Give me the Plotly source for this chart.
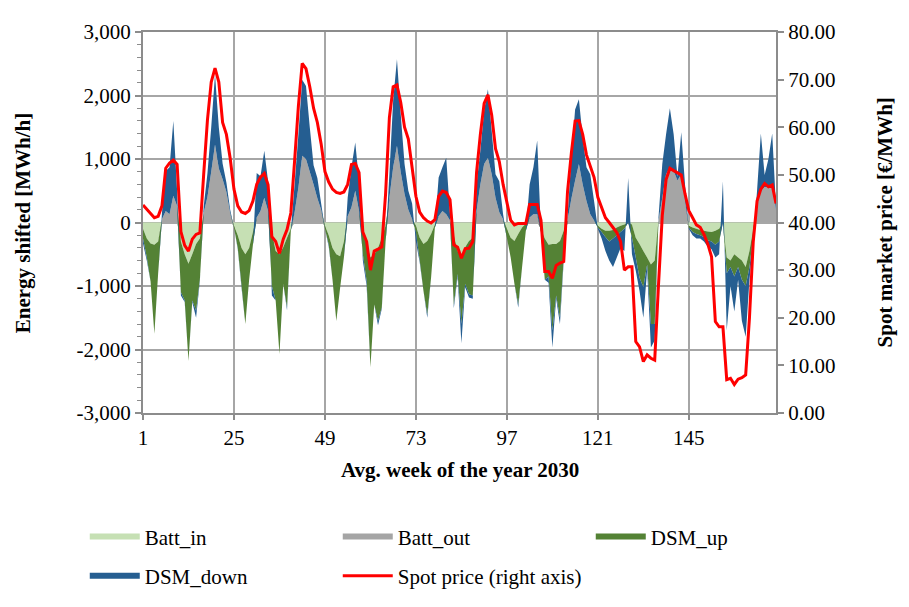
import plotly.graph_objects as go

hours = list(range(1, 169))

batt_in = (
    [-100, -250, -330, -350, -300, 0, 0, 0, 0, 0, -300, -500, -650, -500, -340, -250, 0, 0, 0, 0, 0, 0, 0, 0]
    + [-50, -200, -400, -500, -400, -150, 0, 0, 0, 0, -150, -450, -500, -390, -240, -100, 0, 0, 0, 0, 0, 0, 0, 0]
    + [-50, -200, -400, -500, -530, -300, 0, 0, 0, 0, -150, -340, -550, -500, -400, -240, -50, 0, 0, 0, 0, 0, 0, 0]
    + [-50, -240, -340, -290, -180, -30, 0, 0, 0, 0, -200, -450, -550, -390, -290, -240, 0, 0, 0, 0, 0, 0, 0, 0]
    + [-100, -240, -290, -180, -80, -20, 0, 0, 0, -100, -250, -350, -340, -340, -290, -130, 0, 0, 0, 0, 0, 0, 0, 0]
    + [-50, -100, -130, -130, -120, -80, -50, -30, 0, -30, -240, -340, -450, -550, -660, -600, 0, 0, 0, 0, 0, 0, 0, 0]
    + [-50, -80, -100, -120, -130, -140, -150, -130, -100, 0, -550, -600, -500, -550, -600, -700, -450, -100, 0, 0, 0, 0, 0, 0]
)

batt_out = (
    [0, 0, 0, 0, 0, 50, 180, 130, 420, 260, 0, 0, 0, 0, 0, 0, 150, 400, 800, 1230, 850, 680, 480, 150]
    + [0, 0, 0, 0, 0, 0, 80, 180, 390, 180, 0, 0, 0, 0, 0, 0, 160, 550, 1050, 1000, 800, 600, 380, 200]
    + [0, 0, 0, 0, 0, 0, 100, 240, 500, 180, 0, 0, 0, 0, 0, 0, 0, 390, 870, 1210, 790, 450, 200, 50]
    + [0, 0, 0, 0, 0, 0, 100, 180, 130, 30, 0, 0, 0, 0, 0, 0, 180, 600, 920, 1020, 760, 390, 160, 50]
    + [0, 0, 0, 0, 0, 0, 80, 130, 130, 0, 0, 0, 0, 0, 0, 0, 30, 370, 660, 920, 600, 340, 130, 30]
    + [0, 0, 0, 0, 0, 0, 0, 0, 0, 0, 0, 0, 0, 0, 0, 0, 30, 390, 760, 870, 810, 660, 760, 340]
    + [0, 0, 0, 0, 0, 0, 0, 0, 0, 0, 0, 0, 0, 0, 0, 0, 0, 0, 250, 500, 560, 560, 560, 200]
)

dsm_up = (
    [-150, -300, -600, -1400, -500, 0, 0, 0, 0, 0, -800, -730, -1530, -730, -1050, -650, 0, 0, 0, 0, 0, 0, 0, 0]
    + [-30, -200, -600, -1100, -500, -200, 0, 0, 0, 0, -850, -780, -1570, -580, -1100, -30, 0, 0, 0, 0, 0, 0, 0, 0]
    + [-50, -150, -500, -1050, -500, -250, 0, 0, 0, 0, -350, -580, -1730, -790, -1150, -1100, -250, 0, 0, 0, 0, 0, 0, 0]
    + [-100, -360, -740, -1160, -690, -50, 0, 0, 0, 0, -1100, -360, -1050, -580, -840, -910, 0, 0, 0, 0, 0, 0, 0, 0]
    + [-140, -310, -680, -1110, -630, -110, 0, 0, 0, -50, -650, -500, -1360, -810, -1210, -420, 0, 0, 0, 0, 0, 0, 0, 0]
    + [-30, -50, -100, -170, -130, -120, -100, -70, 0, -210, -310, -530, -570, -110, -940, -1000, 0, 0, 0, 0, 0, 0, 0, 0]
    + [-30, -70, -80, -80, -100, -140, -150, -220, -200, 0, -250, -100, -350, -150, -300, -300, -250, -100, 0, 0, 0, 0, 0, 0]
)

dsm_down = (
    [-80, -50, 0, 0, 0, 100, 630, 740, 1180, 240, -50, -20, 0, -20, -110, -20, 100, 370, 700, 1100, 650, 250, 150, 50]
    + [0, -20, -30, 0, 0, 0, 700, 550, 740, 470, -150, 0, 0, 0, -40, 0, 440, 840, 1200, 1150, 700, 300, 320, 100]
    + [0, -30, 0, 0, 0, 0, 290, 630, 760, 470, -100, -80, 0, 0, -70, -20, 0, 370, 1050, 1360, 910, 470, 300, 250]
    + [-150, -30, 0, -50, 0, 0, 610, 690, 890, 100, -50, -40, -300, -50, -50, -50, 420, 530, 840, 1080, 680, 370, 490, 80]
    + [0, 0, 0, -50, 0, 0, 520, 740, 1160, 0, 0, -100, -270, -50, -100, -50, 50, 650, 1120, 1020, 740, 530, 630, 310]
    + [-20, -100, -220, -300, -450, -350, -250, -350, 700, -260, -210, -210, -480, -90, -370, -260, 50, 530, 630, 930, 580, 60, 660, 260]
    + [-20, -50, -70, -50, -70, -100, -120, -200, -200, 650, -900, -300, -550, -200, -650, -800, -200, -100, 250, 900, 190, 440, 840, 50]
)

spot_price = (
    [43.7, 42.8, 41.8, 41.0, 41.3, 43.5, 51.4, 52.5, 53.1, 52.2, 38.1, 35.2, 34.0, 36.5, 37.5, 37.8, 50.0, 61.5, 69.5, 72.4, 69.5, 61.0, 58.5, 53.5]
    + [47.0, 43.5, 42.2, 41.9, 42.5, 44.5, 48.0, 49.5, 50.3, 47.9, 37.0, 36.0, 33.5, 36.5, 38.5, 42.0, 53.0, 64.5, 73.4, 72.3, 68.5, 64.0, 61.0, 56.5]
    + [50.7, 48.5, 47.0, 46.3, 46.1, 46.4, 48.0, 52.2, 52.4, 50.5, 38.0, 36.0, 30.0, 34.0, 34.4, 34.9, 46.0, 62.0, 68.5, 68.9, 65.2, 60.0, 57.5, 52.0]
    + [45.5, 42.2, 41.0, 40.3, 39.9, 40.6, 45.5, 46.6, 46.3, 44.8, 35.3, 34.8, 32.5, 34.5, 34.6, 36.0, 50.5, 58.5, 65.0, 66.8, 62.5, 55.5, 52.8, 48.0]
    + [44.0, 40.5, 39.5, 39.8, 39.8, 39.8, 43.8, 43.8, 43.8, 40.5, 29.7, 29.7, 28.3, 31.0, 31.5, 31.8, 46.5, 54.5, 61.3, 61.4, 58.5, 54.2, 52.0, 49.5]
    + [45.3, 43.0, 41.0, 40.0, 38.9, 37.9, 36.0, 30.0, 30.7, 30.7, 15.0, 13.9, 10.8, 12.2, 11.5, 11.1, 26.9, 41.5, 49.0, 51.4, 50.9, 50.5, 50.0, 46.0]
    + [42.5, 41.0, 39.5, 39.0, 37.5, 35.5, 32.8, 19.2, 18.1, 18.1, 7.0, 7.3, 6.0, 7.1, 7.4, 8.0, 20.0, 36.0, 44.5, 47.0, 48.2, 47.5, 47.9, 44.0]
)

x_tick_vals = [1, 25, 49, 73, 97, 121, 145]
x_tick_text = ["1", "25", "49", "73", "97", "121", "145"]
left_tick_vals = [-3000, -2000, -1000, 0, 1000, 2000, 3000]
left_tick_text = ["-3,000", "-2,000", "-1,000", "0", "1,000", "2,000", "3,000"]
right_tick_vals = [0, 10, 20, 30, 40, 50, 60, 70, 80]

series_names = ["Batt_in", "Batt_out", "DSM_up", "DSM_down"]
series_values = [batt_in, batt_out, dsm_up, dsm_down]
series_colors = ["#C6E0B4", "#A5A5A5", "#548235", "#255E91"]
series_legend = ["legend", "legend", "legend", "legend2"]

FONT = "Liberation Serif, Times New Roman, serif"
FS = 21
AXIS = "#8C8C8C"
GRID = "#A6A6A6"

fig = go.Figure()
for name, vals, col, lg in zip(series_names, series_values, series_colors, series_legend):
    fig.add_trace(go.Scatter(
        x=hours, y=vals, name=name, stackgroup="energy", mode="none",
        fillcolor=col, line=dict(width=0), legend=lg))

fig.add_trace(go.Scatter(
    x=hours, y=spot_price, name="Spot price (right axis)", yaxis="y2",
    mode="lines", line=dict(color="#FF0000", width=3), legend="legend2"))

legend_common = dict(orientation="h", xanchor="left", yanchor="middle",
                     entrywidth=188, entrywidthmode="pixels", font=dict(size=FS),
                     traceorder="normal", itemwidth=50, bgcolor="rgba(0,0,0,0)")

# the page body adds an 8px offset, so the figure is 8px smaller and margins shifted
fig.update_layout(
    width=901, height=599,
    margin=dict(l=135, r=133, t=24, b=194, autoexpand=False),
    paper_bgcolor="white", plot_bgcolor="white",
    font=dict(family=FONT, size=FS, color="black"),
    showlegend=True,
    legend=dict(x=-0.092, y=-0.325, **legend_common),
    legend2=dict(x=-0.092, y=-0.428, **legend_common),
    xaxis=dict(range=[1, 168], tickmode="array", tickvals=x_tick_vals, ticktext=x_tick_text,
               showgrid=True, gridcolor=GRID, gridwidth=1.5, zeroline=False,
               showline=True, linecolor=AXIS, linewidth=2, mirror=True,
               ticks="outside", ticklen=5, tickcolor=AXIS, tickwidth=1.5),
    yaxis=dict(range=[-3000, 3000], tickmode="array", tickvals=left_tick_vals, ticktext=left_tick_text,
               showgrid=True, gridcolor=GRID, gridwidth=2, zeroline=False,
               showline=True, linecolor=AXIS, linewidth=2,
               ticks="outside", ticklen=6, tickcolor=AXIS, tickwidth=1.5,
               minor=dict(dtick=200, tick0=0, ticks="outside", ticklen=4, tickcolor=AXIS, tickwidth=1, showgrid=False)),
    yaxis2=dict(range=[0, 80], overlaying="y", side="right", tickmode="array",
                tickvals=right_tick_vals, tickformat=".2f", showgrid=False, zeroline=False,
                showline=True, linecolor=AXIS, linewidth=2,
                ticks="outside", ticklen=6, tickcolor=AXIS, tickwidth=1.5),
    annotations=[
        dict(text="<b>Energy shifted [MWh/h]</b>", xref="paper", yref="paper", x=-0.19, y=0.5,
             textangle=-90, showarrow=False, font=dict(size=FS), xanchor="center", yanchor="middle"),
        dict(text="<b>Spot market price [€/MWh]</b>", xref="paper", yref="paper", x=1.172, y=0.5,
             textangle=-90, showarrow=False, font=dict(size=FS), xanchor="center", yanchor="middle"),
        dict(text="<b>Avg. week of the year 2030</b>", xref="paper", yref="paper", x=0.5, y=-0.15,
             showarrow=False, font=dict(size=FS), xanchor="center", yanchor="middle"),
    ],
)

fig.write_html("out.html")
